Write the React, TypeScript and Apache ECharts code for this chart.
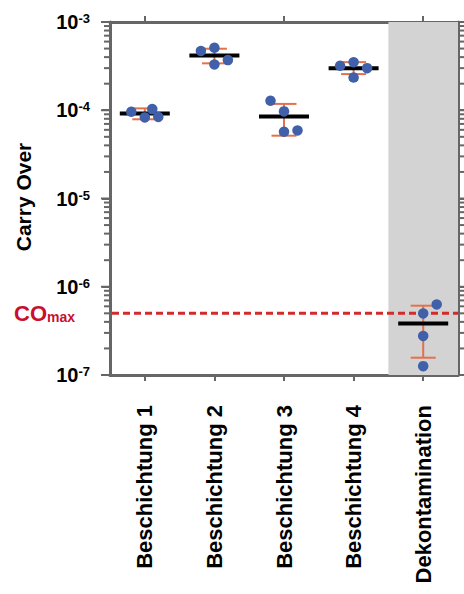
import React, { useEffect, useRef } from "react";
import * as echarts from "echarts";

const categories = ["Beschichtung 1", "Beschichtung 2", "Beschichtung 3", "Beschichtung 4", "Dekontamination"];
// individual measurements per category
const pointValues = [
  [9.6e-5, 1.03e-4, 8.3e-5, 8.4e-5],
  [4.7e-4, 5.1e-4, 3.7e-4, 3.3e-4],
  [1.28e-4, 9.7e-5, 5.7e-5, 5.9e-5],
  [3.19e-4, 3.5e-4, 3.0e-4, 2.35e-4],
  [6.3e-7, 4.98e-7, 2.77e-7, 1.26e-7],
];
// horizontal jitter slot of each point (-1 left, 0 centre, 1 right)
const pointJitter = [
  [-1, 0.55, 0, 1],
  [-1, 0, 1, 0],
  [-1, 0, 0, 1],
  [-1, 0, 1, 0],
  [1, 0, 0, 0],
];
const means = [9.2e-5, 4.18e-4, 8.5e-5, 3.0e-4, 3.83e-7];
const errLow = [7.9e-5, 3.4e-4, 5.15e-5, 2.57e-4, 1.57e-7];
const errHigh = [1.05e-4, 4.98e-4, 1.18e-4, 3.51e-4, 6.1e-7];
const coMax = 5e-7;
const yMin = 1e-7;
const yMax = 1e-3;
const highlightedCategory = "Dekontamination";

const FONT = '"Liberation Sans", Arial, Helvetica, sans-serif';
const AXIS_GRAY = "#666666";
const DOT_BLUE = "#4060a9";
const ERR_ORANGE = "#e2714c";
const CO_RED = "#c8102e";
const DASH_RED = "#d42a2a";

// axis tick values of the log scale: [value, isMajor]
function logTickValues(): [number, number][] {
  const out: [number, number][] = [];
  const e0 = Math.round(Math.log10(yMin));
  const e1 = Math.round(Math.log10(yMax));
  for (let e = e0; e <= e1; e++) {
    out.push([Math.pow(10, e), 1]);
    if (e < e1) for (let k = 2; k <= 9; k++) out.push([k * Math.pow(10, e), 0]);
  }
  return out;
}

export default function App() {
  const ref = useRef<HTMLDivElement>(null);
  useEffect(() => {
    if (!ref.current) return;
    const chart = echarts.init(ref.current, undefined, { renderer: "svg" });

    const scatterData: any[] = [];
    pointValues.forEach((vals, ci) => {
      vals.forEach((v, k) => {
        scatterData.push({ value: [ci, v], symbolOffset: [pointJitter[ci][k] * 13.5, 0] });
      });
    });

    const axisLineStyle = { color: AXIS_GRAY, width: 3 };
    const tickStyle = { color: AXIS_GRAY, width: 2 };

    const option: any = {
      animation: false,
      grid: { left: 110, right: 6, top: 22, bottom: 219 },
      xAxis: [
        {
          type: "category",
          data: categories,
          position: "bottom",
          axisLine: { show: true, lineStyle: axisLineStyle },
          axisTick: { show: true, alignWithLabel: true, length: 6, lineStyle: tickStyle },
          axisLabel: {
            rotate: 90,
            margin: 30,
            fontSize: 22,
            fontWeight: "bold",
            color: "#000",
            fontFamily: FONT,
          },
          splitLine: { show: false },
        },
        {
          type: "category",
          data: categories,
          position: "top",
          axisLine: { show: true, lineStyle: axisLineStyle },
          axisTick: { show: true, alignWithLabel: true, length: 6, lineStyle: tickStyle },
          axisLabel: { show: false },
          splitLine: { show: false },
        },
      ],
      yAxis: [
        {
          type: "log",
          logBase: 10,
          min: yMin,
          max: yMax,
          position: "left",
          axisLine: { show: true, lineStyle: axisLineStyle },
          axisTick: { show: true, length: 8, lineStyle: tickStyle },
          splitLine: { show: false },
          axisLabel: {
            margin: 20,
            color: "#000",
            formatter: (v: number) => `{b|10}{s|${Math.round(Math.log10(v))}}`,
            rich: {
              b: { fontSize: 20, fontWeight: "bold", fontFamily: FONT, color: "#000", lineHeight: 20, verticalAlign: "bottom" },
              s: { fontSize: 13, fontWeight: "bold", fontFamily: FONT, color: "#000", lineHeight: 13, verticalAlign: "top" },
            },
          },
        },
        {
          type: "log",
          logBase: 10,
          min: yMin,
          max: yMax,
          position: "right",
          axisLine: { show: true, lineStyle: axisLineStyle },
          axisTick: { show: true, length: 8, lineStyle: tickStyle },
          splitLine: { show: false },
          axisLabel: { show: false },
        },
      ],
      graphic: [
        {
          type: "text",
          x: 23,
          y: 197,
          rotation: Math.PI / 2,
          style: {
            text: "Carry Over",
            fontSize: 21,
            fontWeight: "bold",
            fontFamily: FONT,
            fill: "#000",
            align: "center",
            verticalAlign: "middle",
          },
        },
        {
          type: "text",
          x: 14,
          y: 313,
          style: {
            text: "{co|CO}{m|max}",
            verticalAlign: "middle",
            fill: CO_RED,
            rich: {
              co: { fontSize: 22, fontWeight: "bold", fontFamily: FONT, fill: CO_RED, color: CO_RED, lineHeight: 22, verticalAlign: "bottom" },
              m: { fontSize: 14, fontWeight: "bold", fontFamily: FONT, fill: CO_RED, color: CO_RED, lineHeight: 14, verticalAlign: "bottom" },
            },
          },
        },
      ],
      series: [
        {
          type: "custom",
          name: "band",
          z: 1,
          silent: true,
          xAxisIndex: 0,
          yAxisIndex: 0,
          data: [[categories.indexOf(highlightedCategory), 1e-5]],
          encode: { x: 0, y: 1 },
          renderItem: (params: any, api: any) => {
            const cs = params.coordSys;
            const cx = api.coord([api.value(0), api.value(1)])[0];
            const bw = api.size([1, api.value(1)])[0];
            const x0 = cx - bw / 2;
            return {
              type: "rect",
              shape: { x: x0, y: cs.y, width: cs.x + cs.width - x0, height: cs.height },
              style: { fill: "#d4d3d4" },
            };
          },
        },
        {
          type: "custom",
          name: "coMax",
          z: 2,
          silent: true,
          xAxisIndex: 0,
          yAxisIndex: 0,
          data: [[0, coMax]],
          encode: { x: 0, y: 1 },
          renderItem: (params: any, api: any) => {
            const cs = params.coordSys;
            const y = api.coord([0, api.value(1)])[1];
            return {
              type: "line",
              shape: { x1: cs.x + 2, y1: y, x2: cs.x + cs.width, y2: y },
              style: { stroke: DASH_RED, lineWidth: 3, lineDash: [7, 4] },
            };
          },
        },
        {
          type: "custom",
          name: "logTicks",
          z: 3,
          silent: true,
          clip: false,
          xAxisIndex: 0,
          yAxisIndex: 0,
          data: logTickValues().map(([v, major]) => [0, v, major]),
          encode: { x: 0, y: 1 },
          renderItem: (params: any, api: any) => {
            const cs = params.coordSys;
            const y = api.coord([0, api.value(1)])[1];
            const len = api.value(2) ? 9 : 6;
            return {
              type: "group",
              children: [
                { type: "line", shape: { x1: cs.x - len, y1: y, x2: cs.x, y2: y }, style: { stroke: AXIS_GRAY, lineWidth: 2 } },
                { type: "line", shape: { x1: cs.x + cs.width, y1: y, x2: cs.x + cs.width + len, y2: y }, style: { stroke: AXIS_GRAY, lineWidth: 2 } },
              ],
            };
          },
        },
        {
          type: "custom",
          name: "errors",
          z: 3,
          silent: true,
          xAxisIndex: 0,
          yAxisIndex: 0,
          data: categories.map((c, i) => [i, means[i], errLow[i], errHigh[i]]),
          encode: { x: 0, y: 1 },
          renderItem: (params: any, api: any) => {
            const i = api.value(0);
            const [x, yM] = api.coord([i, api.value(1)]);
            const yL = api.coord([i, api.value(2)])[1];
            const yH = api.coord([i, api.value(3)])[1];
            return {
              type: "group",
              children: [
                { type: "line", shape: { x1: x, y1: yL, x2: x, y2: yH }, style: { stroke: ERR_ORANGE, lineWidth: 2 } },
                { type: "line", shape: { x1: x - 12.5, y1: yL, x2: x + 12.5, y2: yL }, style: { stroke: ERR_ORANGE, lineWidth: 2 } },
                { type: "line", shape: { x1: x - 12.5, y1: yH, x2: x + 12.5, y2: yH }, style: { stroke: ERR_ORANGE, lineWidth: 2 } },
                { type: "line", shape: { x1: x - 25, y1: yM, x2: x + 25, y2: yM }, style: { stroke: "#000", lineWidth: 4 } },
              ],
            };
          },
        },
        {
          type: "scatter",
          name: "points",
          z: 4,
          xAxisIndex: 0,
          yAxisIndex: 0,
          symbol: "circle",
          symbolSize: 10.5,
          itemStyle: { color: DOT_BLUE, opacity: 1 },
          data: scatterData,
        },
      ],
    };
    chart.setOption(option);
    return () => chart.dispose();
  }, []);
  return <div ref={ref} style={{ position: "absolute", left: 0, top: 0, width: 464, height: 594 }} />;
}
